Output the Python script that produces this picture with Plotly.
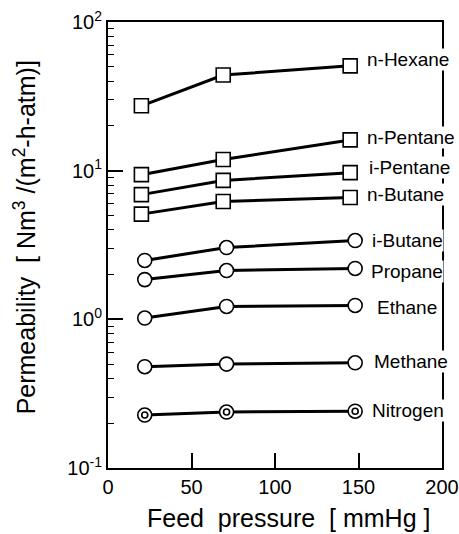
import math
import plotly.graph_objects as go

# ---- data ----
x_square = [20, 69, 145]      # feed pressure [mmHg] for square-marker series
x_circle = [22, 71, 148]      # feed pressure [mmHg] for circle-marker series

n_hexane = [27.3, 44.0, 50.7]
n_pentane = [9.4, 11.9, 16.1]
i_pentane = [6.9, 8.6, 9.7]
n_butane = [5.1, 6.2, 6.6]
i_butane = [2.49, 3.04, 3.39]
propane = [1.85, 2.13, 2.2]
ethane = [1.02, 1.22, 1.24]
methane = [0.48, 0.50, 0.51]
nitrogen = [0.227, 0.238, 0.241]

y_tick_vals = [0.1, 1, 10, 100]
y_tick_text = ["10<sup>-1</sup>", "10<sup>0</sup>", "10<sup>1</sup>", "10<sup>2</sup>"]
x_tick_vals = [0, 50, 100, 150, 200]

series = [
    ("n-Hexane", x_square, n_hexane, "square"),
    ("n-Pentane", x_square, n_pentane, "square"),
    ("i-Pentane", x_square, i_pentane, "square"),
    ("n-Butane", x_square, n_butane, "square"),
    ("i-Butane", x_circle, i_butane, "circle"),
    ("Propane", x_circle, propane, "circle"),
    ("Ethane", x_circle, ethane, "circle"),
    ("Methane", x_circle, methane, "circle"),
    ("Nitrogen", x_circle, nitrogen, "circle"),
]

# label offsets (pixels) relative to the last point of each series
label_shift = {
    "n-Hexane": (16, 6), "n-Pentane": (16, 2), "i-Pentane": (18, 5),
    "n-Butane": (16, 3), "i-Butane": (16, 0), "Propane": (15, -3),
    "Ethane": (21, -2), "Methane": (18, 1), "Nitrogen": (16, 1),
}

FONT = "Liberation Sans, Arial, Helvetica, sans-serif"
NARROW = "Liberation Sans Narrow, Arial Narrow, Liberation Sans, sans-serif"

fig = go.Figure()
for name, xs, ys, sym in series:
    fig.add_trace(go.Scatter(
        x=xs, y=ys, mode="lines+markers", name=name,
        line=dict(color="black", width=3),
        marker=dict(symbol=sym, size=14,
                    color="white", line=dict(color="black", width=1.6)),
        showlegend=False,
    ))
# inner ring for nitrogen (double circle)
fig.add_trace(go.Scatter(
    x=x_circle, y=nitrogen, mode="markers",
    marker=dict(symbol="circle", size=6, color="white",
                line=dict(color="black", width=1.6)),
    showlegend=False,
))

for name, xs, ys, sym in series:
    dx, dy = label_shift[name]
    fig.add_annotation(
        x=xs[-1], y=math.log10(ys[-1]), yref="y", xref="x",
        text=name, showarrow=False, xanchor="left", yanchor="middle",
        xshift=dx, yshift=dy, bgcolor="white", borderpad=0,
        font=dict(family=FONT, size=19, color="black"),
    )

minor_vals = [m * 10 ** e for e in (-1, 0, 1) for m in range(2, 10)]

fig.update_yaxes(
    type="log", range=[-1, 2], automargin=False,
    tickmode="array", tickvals=y_tick_vals, ticktext=y_tick_text,
    ticks="inside", ticklen=15, tickwidth=1.5, tickcolor="black",
    minor=dict(tickmode="array", tickvals=minor_vals, ticks="inside",
               ticklen=6, tickwidth=1.3, tickcolor="black", showgrid=False),
    showline=True, linecolor="black", linewidth=2, mirror=True,
    showgrid=False, zeroline=False,
    tickfont=dict(family=NARROW, size=20, color="black"),
)
fig.update_xaxes(
    range=[0, 200], tickmode="array", tickvals=x_tick_vals, automargin=False,
    ticks="inside", ticklen=15, tickwidth=1.5, tickcolor="black",
    showline=True, linecolor="black", linewidth=2, mirror=True,
    showgrid=False, zeroline=False,
    tickfont=dict(family=NARROW, size=20, color="black"),
)

fig.add_annotation(
    xref="paper", yref="paper", x=0.54, y=-0.112, yanchor="middle",
    text="Feed  pressure  [ mmHg ]", showarrow=False,
    font=dict(family=FONT, size=25, color="black"),
)
fig.add_annotation(
    xref="paper", yref="paper", x=-0.25, y=0.516, textangle=-90,
    xanchor="center", yanchor="middle",
    text="Permeability  [ Nm<sup>3</sup> /(m<sup>2</sup>-h-atm)]", showarrow=False,
    font=dict(family=FONT, size=25, color="black"),
)

fig.update_layout(
    width=459, height=534,
    margin=dict(l=108, r=17, t=22, b=66, autoexpand=False),
    plot_bgcolor="white", paper_bgcolor="white",
    font=dict(family=FONT, color="black"),
)

fig.write_html(
    "out.html",
    config={"displayModeBar": False},
    post_script="document.body.style.margin='0';document.body.style.padding='0';"
                "document.body.style.overflow='hidden';",
)
